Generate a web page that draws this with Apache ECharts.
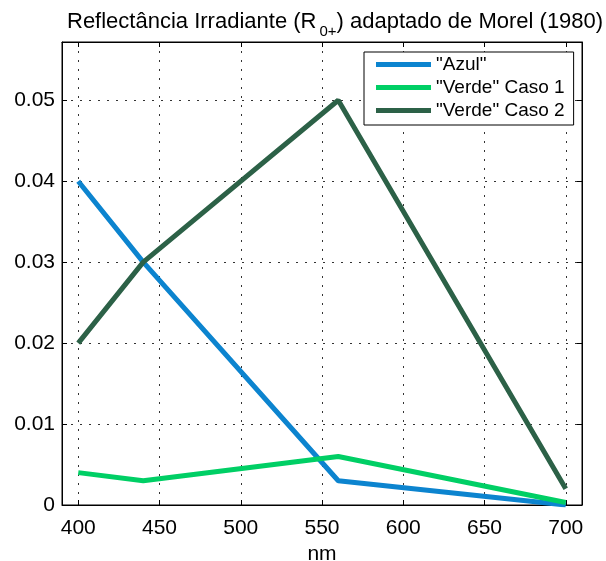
<!DOCTYPE html>
<html>
<head>
<meta charset="utf-8">
<script src="https://cdn.jsdelivr.net/npm/echarts@6/dist/echarts.min.js"></script>
<style>
  html, body { margin: 0; padding: 0; background: #fff; }
  #chart { width: 606px; height: 561px; }
</style>
</head>
<body>
<div id="chart"></div>
<script>
// comprimentos de onda (nm)
const wavelengths = [400, 440, 560, 700];
const azul = [0.040, 0.030, 0.003, 0.000];
const verdeCaso1 = [0.004, 0.003, 0.006, 0.0003];
const verdeCaso2 = [0.020, 0.030, 0.050, 0.002];

const xTicks = [400, 450, 500, 550, 600, 650, 700];
const yTicks = [0, 0.01, 0.02, 0.03, 0.04, 0.05];

const seriesNames = ['"Azul"', '"Verde" Caso 1', '"Verde" Caso 2'];
const seriesColors = ['#0c84cf', '#00cf65', '#2c6147'];

const toPairs = vals => wavelengths.map((w, i) => [w, vals[i]]);

const chart = echarts.init(document.getElementById('chart'));

const dotted = { show: true, lineStyle: { color: '#333', type: [2, 7], width: 1 } };
const fontFam = '"Liberation Sans", Arial, sans-serif';

const option = {
  animation: false,
  title: {
    text: '{m|Reflectância Irradiante (R}{sub|0+}{m|) adaptado de Morel (1980)}',
    left: 67,
    top: 11,
    padding: 0,
    textStyle: {
      fontWeight: 'normal',
      rich: {
        m: {
          fontFamily: fontFam,
          fontSize: 22,
          fontWeight: 'normal',
          color: '#000',
          lineHeight: 22
        },
        sub: {
          fontFamily: fontFam,
          fontSize: 15,
          fontWeight: 'normal',
          color: '#000',
          lineHeight: 15,
          padding: [0, 0, -20, 3]
        }
      }
    }
  },
  legend: {
    data: seriesNames,
    orient: 'vertical',
    left: 364,
    top: 52,
    padding: [3, 9, 5, 12],
    itemGap: 4,
    itemWidth: 55,
    itemHeight: 5,
    icon: 'rect',
    borderColor: '#000',
    borderWidth: 1,
    backgroundColor: '#fff',
    textStyle: { fontFamily: fontFam, fontSize: 19, color: '#000', lineHeight: 19 }
  },
  grid: {
    left: 62,
    right: 24,
    top: 42,
    bottom: 56,
    outerBoundsMode: 'none',
    show: true,
    borderColor: '#000',
    borderWidth: 1,
    backgroundColor: 'transparent'
  },
  xAxis: [
    {
      type: 'value',
      min: 390,
      max: 710,
      name: 'nm',
      nameLocation: 'middle',
      nameGap: 36,
      nameTextStyle: { fontFamily: fontFam, fontSize: 21, color: '#000' },
      axisLine: { show: true, onZero: false, lineStyle: { color: '#000' } },
      axisTick: { show: true, inside: true, length: 5, customValues: xTicks, lineStyle: { color: '#000' } },
      axisLabel: { customValues: xTicks, margin: 13, fontFamily: fontFam, fontSize: 21, color: '#000' },
      splitLine: dotted
    },
    {
      type: 'value',
      position: 'top',
      min: 390,
      max: 710,
      axisLine: { show: true, onZero: false, lineStyle: { color: '#000' } },
      axisTick: { show: true, inside: true, length: 5, customValues: xTicks, lineStyle: { color: '#000' } },
      axisLabel: { show: false },
      splitLine: { show: false }
    }
  ],
  yAxis: [
    {
      type: 'value',
      min: 0,
      max: 0.0572,
      axisLine: { show: true, onZero: false, lineStyle: { color: '#000' } },
      axisTick: { show: true, inside: true, length: 5, customValues: yTicks, lineStyle: { color: '#000' } },
      axisLabel: { customValues: yTicks, margin: 7, fontFamily: fontFam, fontSize: 21, color: '#000' },
      splitLine: dotted
    },
    {
      type: 'value',
      position: 'right',
      min: 0,
      max: 0.0572,
      axisLine: { show: true, onZero: false, lineStyle: { color: '#000' } },
      axisTick: { show: true, inside: true, length: 5, customValues: yTicks, lineStyle: { color: '#000' } },
      axisLabel: { show: false },
      splitLine: { show: false }
    }
  ],
  series: [azul, verdeCaso1, verdeCaso2].map((vals, i) => ({
    name: seriesNames[i],
    type: 'line',
    data: toPairs(vals),
    showSymbol: false,
    symbol: 'none',
    color: seriesColors[i],
    lineStyle: { color: seriesColors[i], width: 5 },
    z: 2 + i
  }))
};

chart.setOption(option);
</script>
</body>
</html>
